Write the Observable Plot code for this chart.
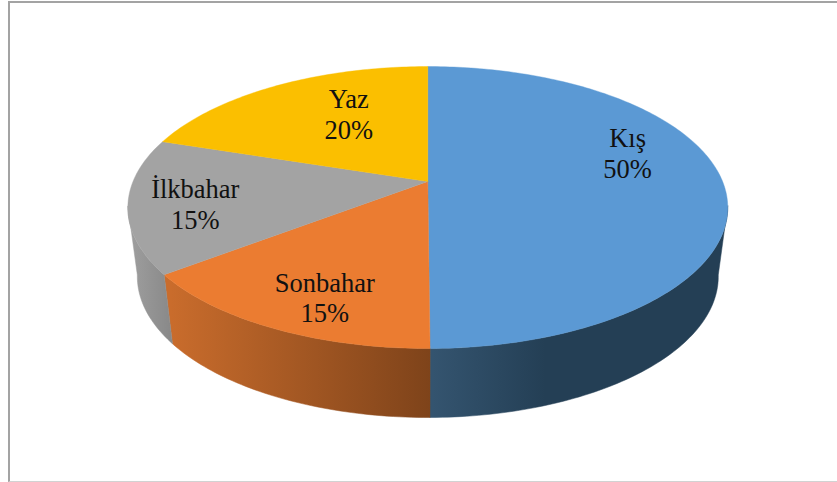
<!DOCTYPE html>
<html>
<head>
<meta charset="utf-8">
<script src="https://cdn.jsdelivr.net/npm/d3@7"></script>
<script src="https://cdn.jsdelivr.net/npm/@observablehq/plot@0.6"></script>
<style>
  html, body { margin: 0; padding: 0; background: #fff; }
  #chart { position: relative; width: 837px; height: 482px; overflow: hidden; }
  #chart svg { display: block; background: #fff; }
  #frame { position: absolute; left: 8px; top: 1px; width: 829px; height: 478px; box-sizing: content-box;
           border-left: 2px solid #a3a3a3; border-top: 2px solid #a3a3a3; border-bottom: 1px solid #d2d2d2; }
</style>
</head>
<body>
<div id="chart"><div id="frame"></div></div>
<script>
// Data (printed labels are the rounded shares)
const seasons = ["Kış", "Sonbahar", "İlkbahar", "Yaz"];
const shares = [49.9, 14.7, 15.4, 20.0];
const topColors = ["#5B99D4", "#EB7C31", "#A3A3A3", "#FBBF00"];
const wallPaints = ["url(#wall0)", "url(#wall1)", "url(#wall2)", "none"];
const labelRadius = [0.739, 0.795, 0.782, 0.621];
const labelTurn = [-17.2, -3.75, -2.08, 7.6];

// Perspective disc model
const persp = 5.42;
const wallFrom = 100, wallTo = 260;            // visible part of the wall, degrees
const bottomScaleX = 285.5 / 294.8, bottomScaleY = 1, bottomShiftY = 69 / 136.2;

const rad = d => d * Math.PI / 180;
const topPoint = (deg, r = 1) => {
  const X = r * Math.sin(rad(deg)), Z = -r * Math.cos(rad(deg)), s = persp / (persp - Z);
  return {x: X * s, y: Z * s};
};
const bottomPoint = deg => {
  const p = topPoint(deg);
  return {x: p.x * bottomScaleX, y: bottomShiftY + p.y * bottomScaleY};
};
const degrees = (a, b) => {
  const n = Math.max(1, Math.ceil(Math.abs(b - a)));
  return d3.range(n + 1).map(i => a + (b - a) * i / n);
};

let acc = 0;
const slices = seasons.map((name, i) => {
  const start = acc * 3.6; acc += shares[i];
  return {name, i, start, end: acc * 3.6, share: shares[i]};
});

const faceMarks = slices.map(s =>
  Plot.line([{x: 0, y: 0}, ...degrees(s.start, s.end).map(d => topPoint(d)), {x: 0, y: 0}],
    {x: "x", y: "y", fill: topColors[s.i], stroke: topColors[s.i], strokeWidth: 0.4, curve: "linear"})
);

const wallMarks = slices
  .filter(s => s.start < wallTo && s.end > wallFrom)
  .map(s => {
    const a = Math.max(s.start, wallFrom), b = Math.min(s.end, wallTo);
    const ds = degrees(a, b);
    const pts = [...ds.map(d => topPoint(d)), ...ds.slice().reverse().map(bottomPoint)];
    pts.push(pts[0]);
    return Plot.line(pts, {x: "x", y: "y", fill: wallPaints[s.i], stroke: wallPaints[s.i], strokeWidth: 0.5, curve: "linear"});
  });

const labelData = slices.map(s => {
  const mid = (s.start + s.end) / 2 + labelTurn[s.i];
  const p = topPoint(mid, labelRadius[s.i]);
  return {x: p.x, y: p.y, text: `${s.name}\n${Math.round(s.share)}%`};
});

const gradients = () => {
  const defs = d3.create("svg:defs");
  const add = (id, x1, x2, stops) => {
    const g = defs.append("linearGradient").attr("id", id)
      .attr("gradientUnits", "userSpaceOnUse")
      .attr("x1", x1).attr("x2", x2).attr("y1", 0).attr("y2", 0);
    stops.forEach(([o, c]) => g.append("stop").attr("offset", o).attr("stop-color", c));
  };
  add("wall0", 432, 545, [[0, "#34546F"], [1, "#243F55"]]);
  add("wall1", 170, 431, [[0, "#C96C2C"], [1, "#7E431A"]]);
  add("wall2", 130, 172, [[0, "#9E9E9E"], [1, "#888888"]]);
  return defs.node();
};

const chart = Plot.plot({
  width: 837,
  height: 482,
  margin: 0,
  x: {domain: [-1, 1], range: [132.5, 722.1], axis: null},
  y: {domain: [-1, 1], range: [44.8, 317.2], axis: null},
  style: {background: "#fff"},
  marks: [
    gradients,
    ...wallMarks,
    ...faceMarks,
    Plot.text(labelData, {
      x: "x", y: "y", text: "text",
      fontFamily: "Liberation Serif", fontSize: 26.5, lineHeight: 1.15,
      fill: "#111", textAnchor: "middle"
    })
  ]
});
document.getElementById("chart").prepend(chart);
</script>
</body>
</html>
